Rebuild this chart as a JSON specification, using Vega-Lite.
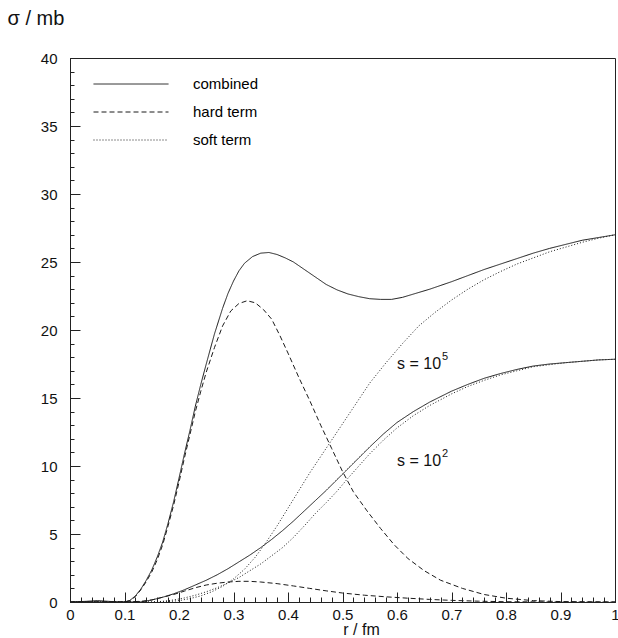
{
  "$schema": "https://vega.github.io/schema/vega-lite/v6.json",
  "width": 545,
  "height": 544,
  "autosize": {"type": "none"},
  "padding": {"left": 70, "top": 58, "right": 3, "bottom": 36},
  "background": "white",
  "config": {
    "font": "Liberation Sans",
    "view": {"stroke": "#222", "strokeWidth": 1},
    "axis": {"domainColor": "#222", "tickColor": "#222", "labelColor": "#111", "titleColor": "#111", "labelFont": "Liberation Sans", "titleFont": "Liberation Sans", "titleFontWeight": "normal", "labelFontSize": 14, "grid": false, "labelOverlap": false, "labelFlush": false}
  },
  "datasets": {
    "curves": [
      {"s":"1e5","term":"combined","r":0,"sigma":0},{"s":"1e5","term":"combined","r":0.03,"sigma":0.05},{"s":"1e5","term":"combined","r":0.05,"sigma":0.1},{"s":"1e5","term":"combined","r":0.07,"sigma":0.05},{"s":"1e5","term":"combined","r":0.09,"sigma":0},{"s":"1e5","term":"combined","r":0.1,"sigma":0},{"s":"1e5","term":"combined","r":0.11,"sigma":0.12},{"s":"1e5","term":"combined","r":0.12,"sigma":0.45},{"s":"1e5","term":"combined","r":0.13,"sigma":0.95},{"s":"1e5","term":"combined","r":0.14,"sigma":1.6},{"s":"1e5","term":"combined","r":0.15,"sigma":2.35},{"s":"1e5","term":"combined","r":0.16,"sigma":3.3},{"s":"1e5","term":"combined","r":0.17,"sigma":4.4},{"s":"1e5","term":"combined","r":0.18,"sigma":5.8},{"s":"1e5","term":"combined","r":0.19,"sigma":7.35},{"s":"1e5","term":"combined","r":0.2,"sigma":9.1},{"s":"1e5","term":"combined","r":0.21,"sigma":10.9},{"s":"1e5","term":"combined","r":0.22,"sigma":12.6},{"s":"1e5","term":"combined","r":0.23,"sigma":14.4},{"s":"1e5","term":"combined","r":0.24,"sigma":16.0},{"s":"1e5","term":"combined","r":0.25,"sigma":17.5},{"s":"1e5","term":"combined","r":0.265,"sigma":19.7},{"s":"1e5","term":"combined","r":0.28,"sigma":21.6},{"s":"1e5","term":"combined","r":0.29,"sigma":22.7},{"s":"1e5","term":"combined","r":0.3,"sigma":23.6},{"s":"1e5","term":"combined","r":0.31,"sigma":24.35},{"s":"1e5","term":"combined","r":0.32,"sigma":24.9},{"s":"1e5","term":"combined","r":0.335,"sigma":25.4},{"s":"1e5","term":"combined","r":0.35,"sigma":25.65},{"s":"1e5","term":"combined","r":0.365,"sigma":25.7},{"s":"1e5","term":"combined","r":0.38,"sigma":25.55},{"s":"1e5","term":"combined","r":0.395,"sigma":25.3},{"s":"1e5","term":"combined","r":0.41,"sigma":25.0},{"s":"1e5","term":"combined","r":0.43,"sigma":24.45},{"s":"1e5","term":"combined","r":0.45,"sigma":23.9},{"s":"1e5","term":"combined","r":0.47,"sigma":23.35},{"s":"1e5","term":"combined","r":0.49,"sigma":22.95},{"s":"1e5","term":"combined","r":0.51,"sigma":22.65},{"s":"1e5","term":"combined","r":0.53,"sigma":22.45},{"s":"1e5","term":"combined","r":0.55,"sigma":22.3},{"s":"1e5","term":"combined","r":0.57,"sigma":22.25},{"s":"1e5","term":"combined","r":0.59,"sigma":22.25},{"s":"1e5","term":"combined","r":0.61,"sigma":22.4},{"s":"1e5","term":"combined","r":0.635,"sigma":22.7},{"s":"1e5","term":"combined","r":0.66,"sigma":23.0},{"s":"1e5","term":"combined","r":0.7,"sigma":23.55},{"s":"1e5","term":"combined","r":0.73,"sigma":24.0},{"s":"1e5","term":"combined","r":0.76,"sigma":24.45},{"s":"1e5","term":"combined","r":0.79,"sigma":24.85},{"s":"1e5","term":"combined","r":0.82,"sigma":25.25},{"s":"1e5","term":"combined","r":0.85,"sigma":25.65},{"s":"1e5","term":"combined","r":0.88,"sigma":26.0},{"s":"1e5","term":"combined","r":0.91,"sigma":26.3},{"s":"1e5","term":"combined","r":0.94,"sigma":26.6},{"s":"1e5","term":"combined","r":0.97,"sigma":26.8},{"s":"1e5","term":"combined","r":1.0,"sigma":27.0},

      {"s":"1e5","term":"hard term","r":0,"sigma":0},{"s":"1e5","term":"hard term","r":0.1,"sigma":0},{"s":"1e5","term":"hard term","r":0.11,"sigma":0.1},{"s":"1e5","term":"hard term","r":0.12,"sigma":0.4},{"s":"1e5","term":"hard term","r":0.13,"sigma":0.9},{"s":"1e5","term":"hard term","r":0.14,"sigma":1.5},{"s":"1e5","term":"hard term","r":0.15,"sigma":2.2},{"s":"1e5","term":"hard term","r":0.16,"sigma":3.1},{"s":"1e5","term":"hard term","r":0.17,"sigma":4.2},{"s":"1e5","term":"hard term","r":0.18,"sigma":5.6},{"s":"1e5","term":"hard term","r":0.19,"sigma":7.1},{"s":"1e5","term":"hard term","r":0.2,"sigma":8.8},{"s":"1e5","term":"hard term","r":0.21,"sigma":10.6},{"s":"1e5","term":"hard term","r":0.22,"sigma":12.3},{"s":"1e5","term":"hard term","r":0.23,"sigma":14.0},{"s":"1e5","term":"hard term","r":0.24,"sigma":15.5},{"s":"1e5","term":"hard term","r":0.25,"sigma":16.9},{"s":"1e5","term":"hard term","r":0.265,"sigma":18.7},{"s":"1e5","term":"hard term","r":0.28,"sigma":20.3},{"s":"1e5","term":"hard term","r":0.295,"sigma":21.4},{"s":"1e5","term":"hard term","r":0.31,"sigma":21.95},{"s":"1e5","term":"hard term","r":0.325,"sigma":22.15},{"s":"1e5","term":"hard term","r":0.34,"sigma":22.0},{"s":"1e5","term":"hard term","r":0.355,"sigma":21.5},{"s":"1e5","term":"hard term","r":0.37,"sigma":20.8},{"s":"1e5","term":"hard term","r":0.385,"sigma":19.6},{"s":"1e5","term":"hard term","r":0.4,"sigma":18.3},{"s":"1e5","term":"hard term","r":0.42,"sigma":16.5},{"s":"1e5","term":"hard term","r":0.44,"sigma":14.8},{"s":"1e5","term":"hard term","r":0.46,"sigma":13.0},{"s":"1e5","term":"hard term","r":0.48,"sigma":11.3},{"s":"1e5","term":"hard term","r":0.5,"sigma":9.6},{"s":"1e5","term":"hard term","r":0.52,"sigma":8.1},{"s":"1e5","term":"hard term","r":0.545,"sigma":6.7},{"s":"1e5","term":"hard term","r":0.57,"sigma":5.4},{"s":"1e5","term":"hard term","r":0.595,"sigma":4.2},{"s":"1e5","term":"hard term","r":0.62,"sigma":3.2},{"s":"1e5","term":"hard term","r":0.65,"sigma":2.3},{"s":"1e5","term":"hard term","r":0.68,"sigma":1.6},{"s":"1e5","term":"hard term","r":0.72,"sigma":1.0},{"s":"1e5","term":"hard term","r":0.76,"sigma":0.55},{"s":"1e5","term":"hard term","r":0.8,"sigma":0.28},{"s":"1e5","term":"hard term","r":0.85,"sigma":0.1},{"s":"1e5","term":"hard term","r":0.9,"sigma":0.03},{"s":"1e5","term":"hard term","r":1.0,"sigma":0},

      {"s":"1e5","term":"soft term","r":0,"sigma":0},{"s":"1e5","term":"soft term","r":0.15,"sigma":0},{"s":"1e5","term":"soft term","r":0.18,"sigma":0.03},{"s":"1e5","term":"soft term","r":0.2,"sigma":0.1},{"s":"1e5","term":"soft term","r":0.22,"sigma":0.25},{"s":"1e5","term":"soft term","r":0.24,"sigma":0.45},{"s":"1e5","term":"soft term","r":0.26,"sigma":0.75},{"s":"1e5","term":"soft term","r":0.28,"sigma":1.15},{"s":"1e5","term":"soft term","r":0.3,"sigma":1.7},{"s":"1e5","term":"soft term","r":0.32,"sigma":2.4},{"s":"1e5","term":"soft term","r":0.34,"sigma":3.3},{"s":"1e5","term":"soft term","r":0.36,"sigma":4.4},{"s":"1e5","term":"soft term","r":0.38,"sigma":5.6},{"s":"1e5","term":"soft term","r":0.4,"sigma":6.9},{"s":"1e5","term":"soft term","r":0.42,"sigma":8.2},{"s":"1e5","term":"soft term","r":0.44,"sigma":9.5},{"s":"1e5","term":"soft term","r":0.46,"sigma":10.7},{"s":"1e5","term":"soft term","r":0.48,"sigma":11.9},{"s":"1e5","term":"soft term","r":0.5,"sigma":13.1},{"s":"1e5","term":"soft term","r":0.52,"sigma":14.3},{"s":"1e5","term":"soft term","r":0.55,"sigma":16.1},{"s":"1e5","term":"soft term","r":0.58,"sigma":17.6},{"s":"1e5","term":"soft term","r":0.61,"sigma":19.0},{"s":"1e5","term":"soft term","r":0.64,"sigma":20.3},{"s":"1e5","term":"soft term","r":0.67,"sigma":21.3},{"s":"1e5","term":"soft term","r":0.7,"sigma":22.2},{"s":"1e5","term":"soft term","r":0.73,"sigma":23.0},{"s":"1e5","term":"soft term","r":0.76,"sigma":23.7},{"s":"1e5","term":"soft term","r":0.79,"sigma":24.3},{"s":"1e5","term":"soft term","r":0.82,"sigma":24.85},{"s":"1e5","term":"soft term","r":0.85,"sigma":25.3},{"s":"1e5","term":"soft term","r":0.88,"sigma":25.75},{"s":"1e5","term":"soft term","r":0.91,"sigma":26.1},{"s":"1e5","term":"soft term","r":0.94,"sigma":26.45},{"s":"1e5","term":"soft term","r":0.97,"sigma":26.75},{"s":"1e5","term":"soft term","r":1.0,"sigma":27.0},

      {"s":"1e2","term":"combined","r":0,"sigma":0},{"s":"1e2","term":"combined","r":0.13,"sigma":0},{"s":"1e2","term":"combined","r":0.15,"sigma":0.15},{"s":"1e2","term":"combined","r":0.17,"sigma":0.35},{"s":"1e2","term":"combined","r":0.19,"sigma":0.6},{"s":"1e2","term":"combined","r":0.21,"sigma":0.9},{"s":"1e2","term":"combined","r":0.23,"sigma":1.25},{"s":"1e2","term":"combined","r":0.25,"sigma":1.6},{"s":"1e2","term":"combined","r":0.27,"sigma":2.0},{"s":"1e2","term":"combined","r":0.29,"sigma":2.45},{"s":"1e2","term":"combined","r":0.31,"sigma":2.95},{"s":"1e2","term":"combined","r":0.33,"sigma":3.45},{"s":"1e2","term":"combined","r":0.35,"sigma":4.0},{"s":"1e2","term":"combined","r":0.37,"sigma":4.6},{"s":"1e2","term":"combined","r":0.39,"sigma":5.25},{"s":"1e2","term":"combined","r":0.41,"sigma":5.95},{"s":"1e2","term":"combined","r":0.43,"sigma":6.7},{"s":"1e2","term":"combined","r":0.45,"sigma":7.45},{"s":"1e2","term":"combined","r":0.47,"sigma":8.2},{"s":"1e2","term":"combined","r":0.49,"sigma":9.0},{"s":"1e2","term":"combined","r":0.51,"sigma":9.8},{"s":"1e2","term":"combined","r":0.53,"sigma":10.6},{"s":"1e2","term":"combined","r":0.55,"sigma":11.4},{"s":"1e2","term":"combined","r":0.575,"sigma":12.35},{"s":"1e2","term":"combined","r":0.6,"sigma":13.2},{"s":"1e2","term":"combined","r":0.63,"sigma":14.0},{"s":"1e2","term":"combined","r":0.66,"sigma":14.7},{"s":"1e2","term":"combined","r":0.7,"sigma":15.5},{"s":"1e2","term":"combined","r":0.73,"sigma":16.0},{"s":"1e2","term":"combined","r":0.76,"sigma":16.45},{"s":"1e2","term":"combined","r":0.79,"sigma":16.8},{"s":"1e2","term":"combined","r":0.82,"sigma":17.1},{"s":"1e2","term":"combined","r":0.85,"sigma":17.35},{"s":"1e2","term":"combined","r":0.88,"sigma":17.5},{"s":"1e2","term":"combined","r":0.91,"sigma":17.6},{"s":"1e2","term":"combined","r":0.94,"sigma":17.7},{"s":"1e2","term":"combined","r":0.97,"sigma":17.8},{"s":"1e2","term":"combined","r":1.0,"sigma":17.85},

      {"s":"1e2","term":"soft term","r":0,"sigma":0},{"s":"1e2","term":"soft term","r":0.15,"sigma":0},{"s":"1e2","term":"soft term","r":0.17,"sigma":0.05},{"s":"1e2","term":"soft term","r":0.19,"sigma":0.15},{"s":"1e2","term":"soft term","r":0.21,"sigma":0.3},{"s":"1e2","term":"soft term","r":0.23,"sigma":0.5},{"s":"1e2","term":"soft term","r":0.25,"sigma":0.75},{"s":"1e2","term":"soft term","r":0.27,"sigma":1.05},{"s":"1e2","term":"soft term","r":0.29,"sigma":1.4},{"s":"1e2","term":"soft term","r":0.31,"sigma":1.8},{"s":"1e2","term":"soft term","r":0.33,"sigma":2.3},{"s":"1e2","term":"soft term","r":0.35,"sigma":2.8},{"s":"1e2","term":"soft term","r":0.37,"sigma":3.4},{"s":"1e2","term":"soft term","r":0.39,"sigma":4.0},{"s":"1e2","term":"soft term","r":0.41,"sigma":4.75},{"s":"1e2","term":"soft term","r":0.43,"sigma":5.6},{"s":"1e2","term":"soft term","r":0.45,"sigma":6.5},{"s":"1e2","term":"soft term","r":0.47,"sigma":7.3},{"s":"1e2","term":"soft term","r":0.49,"sigma":8.15},{"s":"1e2","term":"soft term","r":0.51,"sigma":9.1},{"s":"1e2","term":"soft term","r":0.53,"sigma":10.0},{"s":"1e2","term":"soft term","r":0.55,"sigma":10.9},{"s":"1e2","term":"soft term","r":0.575,"sigma":11.9},{"s":"1e2","term":"soft term","r":0.6,"sigma":12.8},{"s":"1e2","term":"soft term","r":0.63,"sigma":13.7},{"s":"1e2","term":"soft term","r":0.66,"sigma":14.45},{"s":"1e2","term":"soft term","r":0.7,"sigma":15.3},{"s":"1e2","term":"soft term","r":0.73,"sigma":15.85},{"s":"1e2","term":"soft term","r":0.76,"sigma":16.3},{"s":"1e2","term":"soft term","r":0.79,"sigma":16.7},{"s":"1e2","term":"soft term","r":0.82,"sigma":17.0},{"s":"1e2","term":"soft term","r":0.85,"sigma":17.3},{"s":"1e2","term":"soft term","r":0.88,"sigma":17.45},{"s":"1e2","term":"soft term","r":0.91,"sigma":17.6},{"s":"1e2","term":"soft term","r":0.94,"sigma":17.7},{"s":"1e2","term":"soft term","r":0.97,"sigma":17.8},{"s":"1e2","term":"soft term","r":1.0,"sigma":17.85},

      {"s":"1e2","term":"hard term","r":0,"sigma":0},{"s":"1e2","term":"hard term","r":0.1,"sigma":0},{"s":"1e2","term":"hard term","r":0.13,"sigma":0.05},{"s":"1e2","term":"hard term","r":0.15,"sigma":0.15},{"s":"1e2","term":"hard term","r":0.17,"sigma":0.35},{"s":"1e2","term":"hard term","r":0.19,"sigma":0.55},{"s":"1e2","term":"hard term","r":0.21,"sigma":0.8},{"s":"1e2","term":"hard term","r":0.23,"sigma":1.05},{"s":"1e2","term":"hard term","r":0.25,"sigma":1.25},{"s":"1e2","term":"hard term","r":0.27,"sigma":1.38},{"s":"1e2","term":"hard term","r":0.29,"sigma":1.47},{"s":"1e2","term":"hard term","r":0.31,"sigma":1.52},{"s":"1e2","term":"hard term","r":0.33,"sigma":1.52},{"s":"1e2","term":"hard term","r":0.35,"sigma":1.47},{"s":"1e2","term":"hard term","r":0.38,"sigma":1.35},{"s":"1e2","term":"hard term","r":0.41,"sigma":1.18},{"s":"1e2","term":"hard term","r":0.44,"sigma":1.0},{"s":"1e2","term":"hard term","r":0.47,"sigma":0.82},{"s":"1e2","term":"hard term","r":0.5,"sigma":0.66},{"s":"1e2","term":"hard term","r":0.54,"sigma":0.5},{"s":"1e2","term":"hard term","r":0.58,"sigma":0.38},{"s":"1e2","term":"hard term","r":0.62,"sigma":0.28},{"s":"1e2","term":"hard term","r":0.66,"sigma":0.19},{"s":"1e2","term":"hard term","r":0.7,"sigma":0.12},{"s":"1e2","term":"hard term","r":0.75,"sigma":0.06},{"s":"1e2","term":"hard term","r":0.8,"sigma":0.02},{"s":"1e2","term":"hard term","r":0.9,"sigma":0},{"s":"1e2","term":"hard term","r":1.0,"sigma":0}
    ],
    "labels": [
      {"r": 0.6, "sigma": 17.5, "label": "s = 10", "sup": "5"},
      {"r": 0.6, "sigma": 10.4, "label": "s = 10", "sup": "2"}
    ]
  },
  "resolve": {"axis": {"x": "independent", "y": "independent"}},
  "layer": [
    {
      "data": {"name": "curves"},
      "mark": {"type": "line", "strokeWidth": 1, "color": "#1a1a1a", "clip": true},
      "encoding": {
        "x": {
          "field": "r", "type": "quantitative",
          "scale": {"domain": [0, 1], "nice": false},
          "axis": {
            "orient": "bottom", "labelOverlap": false,
            "title": "r / fm", "titleFontSize": 16, "titleX": 291, "titleY": 32, "titleAlign": "center", "titleBaseline": "alphabetic",
            "values": [0,0.1,0.2,0.3,0.4,0.5,0.6,0.7,0.8,0.9,1],
            "format": ".1~f", "labelFontSize": 15,
            "tickSize": -10, "labelPadding": 15
          }
        },
        "y": {
          "field": "sigma", "type": "quantitative",
          "scale": {"domain": [0, 40], "nice": false},
          "axis": {
            "orient": "left", "labelOverlap": false,
            "title": "σ / mb", "titleFontSize": 20, "titleAngle": 0, "titleX": -63, "titleY": -40, "titleAlign": "left", "titleBaseline": "middle",
            "values": [0,5,10,15,20,25,30,35,40], "labelFontSize": 15,
            "tickSize": -10, "labelPadding": 23
          }
        },
        "strokeDash": {
          "field": "term", "type": "nominal",
          "scale": {"domain": ["combined", "hard term", "soft term"], "range": [[1, 0], [5, 3], [1, 2]]},
          "legend": {
            "title": null, "orient": "none", "legendX": 53, "legendY": 18,
            "symbolType": "M-5,0H5", "symbolSize": 225, "symbolStrokeWidth": 1, "symbolStrokeColor": "#1a1a1a", "symbolFillColor": "transparent",
            "labelFontSize": 15, "labelFont": "Liberation Sans", "labelOffset": 54, "rowPadding": 12
          }
        },
        "detail": {"field": "s", "type": "nominal"}
      }
    },
    {
      "data": {"name": "labels"},
      "mark": {"type": "text", "align": "left", "baseline": "middle", "fontSize": 16, "font": "Liberation Sans", "color": "#111"},
      "encoding": {
        "x": {
          "field": "r", "type": "quantitative",
          "scale": {"domain": [0, 1], "nice": false},
          "axis": {
            "orient": "bottom", "title": null, "labels": false, "domain": false,
            "values": [0,0.02,0.04,0.06,0.08,0.1,0.12,0.14,0.16,0.18,0.2,0.22,0.24,0.26,0.28,0.3,0.32,0.34,0.36,0.38,0.4,0.42,0.44,0.46,0.48,0.5,0.52,0.54,0.56,0.58,0.6,0.62,0.64,0.66,0.68,0.7,0.72,0.74,0.76,0.78,0.8,0.82,0.84,0.86,0.88,0.9,0.92,0.94,0.96,0.98,1],
            "tickSize": -5
          }
        },
        "y": {
          "field": "sigma", "type": "quantitative",
          "scale": {"domain": [0, 40], "nice": false},
          "axis": {
            "orient": "left", "title": null, "labels": false, "domain": false,
            "values": [0,1,2,3,4,5,6,7,8,9,10,11,12,13,14,15,16,17,18,19,20,21,22,23,24,25,26,27,28,29,30,31,32,33,34,35,36,37,38,39,40],
            "tickSize": -4
          }
        },
        "text": {"field": "label"}
      }
    },
    {
      "data": {"name": "labels"},
      "mark": {"type": "text", "align": "left", "baseline": "middle", "fontSize": 11, "font": "Liberation Sans", "color": "#111", "dx": 45, "dy": -7},
      "encoding": {
        "x": {"field": "r", "type": "quantitative", "axis": null},
        "y": {"field": "sigma", "type": "quantitative", "axis": null},
        "text": {"field": "sup"}
      }
    }
  ]
}
